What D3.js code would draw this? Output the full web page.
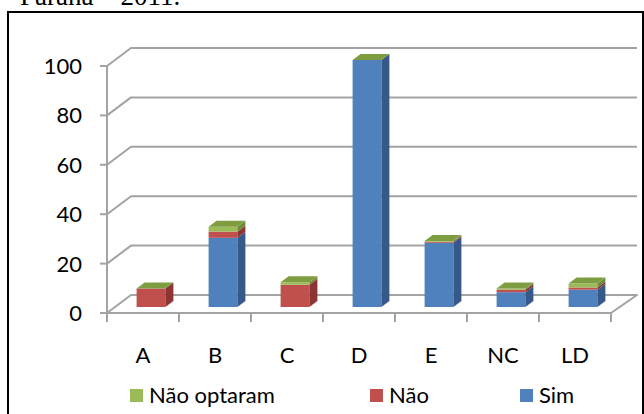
<!DOCTYPE html>
<html>
<head>
<meta charset="utf-8">
<script src="https://cdn.jsdelivr.net/npm/d3@7"></script>
<style>
  html, body { margin: 0; padding: 0; background: #fff; }
  svg { display: block; }
</style>
</head>
<body>
<svg id="chart" width="644" height="414"></svg>
<script>
// Categories and stacked series (bottom to top: Sim, Não, Não optaram)
const categories = ["A", "B", "C", "D", "E", "NC", "LD"];
const sim        = [0, 28, 0, 100, 26, 6, 7];
const nao        = [7.5, 2.5, 9, 0, 0.4, 1, 0.9];
const naoOptaram = [0, 2, 1, 0, 0.3, 0.5, 1.6];
const yTicks = [0, 20, 40, 60, 80, 100];
const seriesNames = ["Não optaram", "Não", "Sim"];

const svg = d3.select("#chart");
const font = "Lato, 'Open Sans', sans-serif";

// Frame around the chart area and a caption line cut at the top
svg.append("text")
  .attr("x", 20).attr("y", 5)
  .attr("font-family", "'Liberation Serif', 'Times New Roman', serif")
  .attr("font-size", 27)
  .text("Paraná – 2011.");
svg.append("path")
  .attr("d", "M8,414 V12 H643 V414")
  .attr("fill", "none").attr("stroke", "#000").attr("stroke-width", 2);

// Scales (front plane of the 3D box)
const y = d3.scaleLinear().domain([0, 100]).range([313, 66]);
const x = d3.scaleBand().domain(categories).range([107, 611])
  .paddingInner(0.6).paddingOuter(0.3);

// depth of the plot box, and of each bar (middle third of the depth)
const DX = 24, DY = 18;
const bFront = [8, -6], bBack = [16, -12];

const grid = svg.append("g")
  .attr("fill", "none").attr("stroke", "#a3a3a3").attr("stroke-width", 2)
  .attr("stroke-linejoin", "round");

// back wall gridlines + side wall diagonals
yTicks.forEach(v => {
  if (v === 0) return;
  grid.append("path")
    .attr("d", `M${x.range()[0]},${y(v)} L${x.range()[0] + DX},${y(v) - DY} H${x.range()[1] + DX + 2}`);
});
// floor outline
const [xl, xr] = x.range();
grid.append("path")
  .attr("d", `M${xl},${y(0)} L${xl + DX},${y(0) - DY} H${xr + DX + 2} L${xr},${y(0)} Z`);
// front vertical axis
grid.append("path").attr("d", `M${xl},${y(100)} V${y(0)}`);
// value ticks
yTicks.forEach(v => {
  grid.append("path").attr("d", `M${xl - 7},${y(v)} H${xl}`);
});
// category ticks
const step = x.step();
for (let i = 0; i <= categories.length; i++) {
  const tx = xl + i * step;
  grid.append("path").attr("d", `M${tx},${y(0)} V${y(0) + 9}`);
}

// value labels
svg.append("g").selectAll("text").data(yTicks).join("text")
  .attr("x", 82).attr("y", d => y(d) + 8)
  .attr("text-anchor", "end")
  .attr("font-family", font).attr("font-size", 22).attr("fill", "#000")
  .text(d => d);

// category labels
svg.append("g").selectAll("text").data(categories).join("text")
  .attr("x", d => x(d) + x.bandwidth() / 2)
  .attr("y", 363)
  .attr("text-anchor", "middle")
  .attr("font-family", font).attr("font-size", 22).attr("fill", "#000")
  .text(d => d);

// stacked 3D columns
const colors = {
  "Sim":         { front: "#4f81bd", side: "#36598a", top: "#6f97c9" },
  "Não":         { front: "#c0504d", side: "#8c3532", top: "#cf6f6c" },
  "Não optaram": { front: "#9bbb59", side: "#6f8a3a", top: "#7e9d40" }
};
const rows = categories.map((c, i) => ({ cat: c, "Sim": sim[i], "Não": nao[i], "Não optaram": naoOptaram[i] }));
const stack = d3.stack().keys(["Sim", "Não", "Não optaram"])(rows);

const bars = svg.append("g");
categories.forEach((c, i) => {
  const bx = x(c), w = x.bandwidth();
  stack.forEach(layer => {
    const [v0, v1] = layer[i];
    const col = colors[layer.key];
    const isTop = layer.key === "Não optaram";
    if (v1 - v0 <= 0 && !isTop) return;
    const fy0 = y(v0) + bFront[1], fy1 = y(v1) + bFront[1];
    const by0 = y(v0) + bBack[1], by1 = y(v1) + bBack[1];
    const fxl = bx + bFront[0], fxr = bx + bFront[0] + w;
    const bxl = bx + bBack[0], bxr = bx + bBack[0] + w;
    if (v1 - v0 > 0) {
      bars.append("rect")
        .attr("x", fxl).attr("y", fy1).attr("width", w).attr("height", fy0 - fy1)
        .attr("fill", col.front);
      bars.append("path")
        .attr("d", `M${fxr},${fy1} L${bxr},${by1} L${bxr},${by0} L${fxr},${fy0} Z`)
        .attr("fill", col.side);
    }
    if (isTop) {
      bars.append("path")
        .attr("d", `M${fxl},${fy1} L${bxl},${by1} L${bxr},${by1} L${fxr},${fy1} Z`)
        .attr("fill", col.top);
    }
  });
});

// legend
const legendX = [130, 370, 520];
const legend = svg.append("g");
seriesNames.forEach((name, i) => {
  legend.append("rect")
    .attr("x", legendX[i]).attr("y", 389).attr("width", 13).attr("height", 13)
    .attr("fill", colors[name].front);
  legend.append("text")
    .attr("x", legendX[i] + 19).attr("y", 403)
    .attr("font-family", font).attr("font-size", 22).attr("fill", "#000")
    .text(name);
});
</script>
</body>
</html>
